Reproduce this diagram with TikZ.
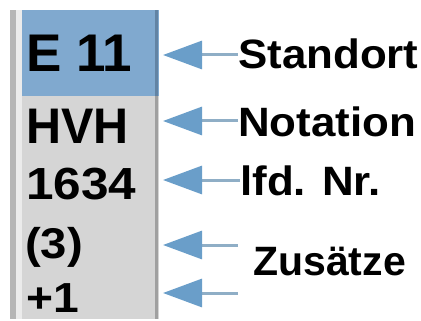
\documentclass[tikz,border=0pt]{standalone}
\usepackage{fontspec}
\setmainfont{Liberation Sans}
\usetikzlibrary{arrows.meta}
\definecolor{stripblue}{HTML}{80A9CF}
\definecolor{stripgrey}{HTML}{D5D5D5}
\definecolor{edgegrey}{HTML}{B5B5B5}
\definecolor{edgelight}{HTML}{EBEBEB}
\definecolor{rimgrey}{HTML}{A0A0A0}
\definecolor{rimblue}{HTML}{6283A3}
\definecolor{headblue}{HTML}{6A9EC9}
\definecolor{lineblue}{HTML}{8FAEC6}
\tikzset{
  code/.style={anchor=base west, inner sep=0pt},
  lab/.style={anchor=base west, inner sep=0pt,
    font=\bfseries\fontsize{41}{44}\selectfont\addfontfeature{FakeStretch=1.07}},
  pointer/.style={draw=lineblue, line width=3pt,
    -{Triangle[length=39pt,width=28pt,color=headblue]}},
}
\begin{document}
\begin{tikzpicture}[x=1pt,y=-1pt]
\useasboundingbox (0,0) rectangle (421,321);
% label strip
\fill[stripgrey] (10,10) rectangle (159,319);
\fill[stripblue] (10,10) rectangle (159,96);
\fill[edgegrey] (10,10) rectangle (16,319);
\fill[edgelight] (16,10) rectangle (22,319);
\fill[rimgrey] (155,96) rectangle (158,319);
\fill[rimblue] (155,10) rectangle (158,96);
% codes
\node[code, font=\bfseries\fontsize{53}{56}\selectfont] (c1) at (26,72) {E 11};
\node[code, font=\bfseries\fontsize{50}{54}\selectfont\addfontfeature{FakeStretch=0.97}] (c2) at (26,143) {HVH};
\node[code, font=\bfseries\fontsize{45}{50}\selectfont\addfontfeature{FakeStretch=1.1}] (c3) at (26,199) {1634};
\node[code, font=\bfseries\fontsize{43}{46}\selectfont\addfontfeature{FakeStretch=1.1}] (c4) at (25,258) {(3)};
\node[code, font=\bfseries\fontsize{42}{46}\selectfont\addfontfeature{FakeStretch=1.1}] (c5) at (26,312) {+1};
% labels
\node[lab] (l1) at (238,69) {Standort};
\node[lab] (l2) at (238,137) {Notation};
\node[lab] (l3) at (240,195) {lfd. Nr.};
\node[lab, font=\bfseries\fontsize{41}{44}\selectfont] (l4) at (253,275) {Zusätze};
% pointer coordinates
\coordinate (t1) at (163,55);
\coordinate (t2) at (163,121);
\coordinate (t3) at (163,180);
\coordinate (t4) at (163,245);
\coordinate (t5) at (163,293);
\coordinate (s4) at (238,245);
\coordinate (s5) at (238,293);
\draw[pointer] (l1.west |- t1) -- (t1);
\draw[pointer] (l2.west |- t2) -- (t2);
\draw[pointer] (l3.west |- t3) -- (t3);
\draw[pointer] (s4) -- (t4);
\draw[pointer] (s5) -- (t5);
\end{tikzpicture}
\end{document}
